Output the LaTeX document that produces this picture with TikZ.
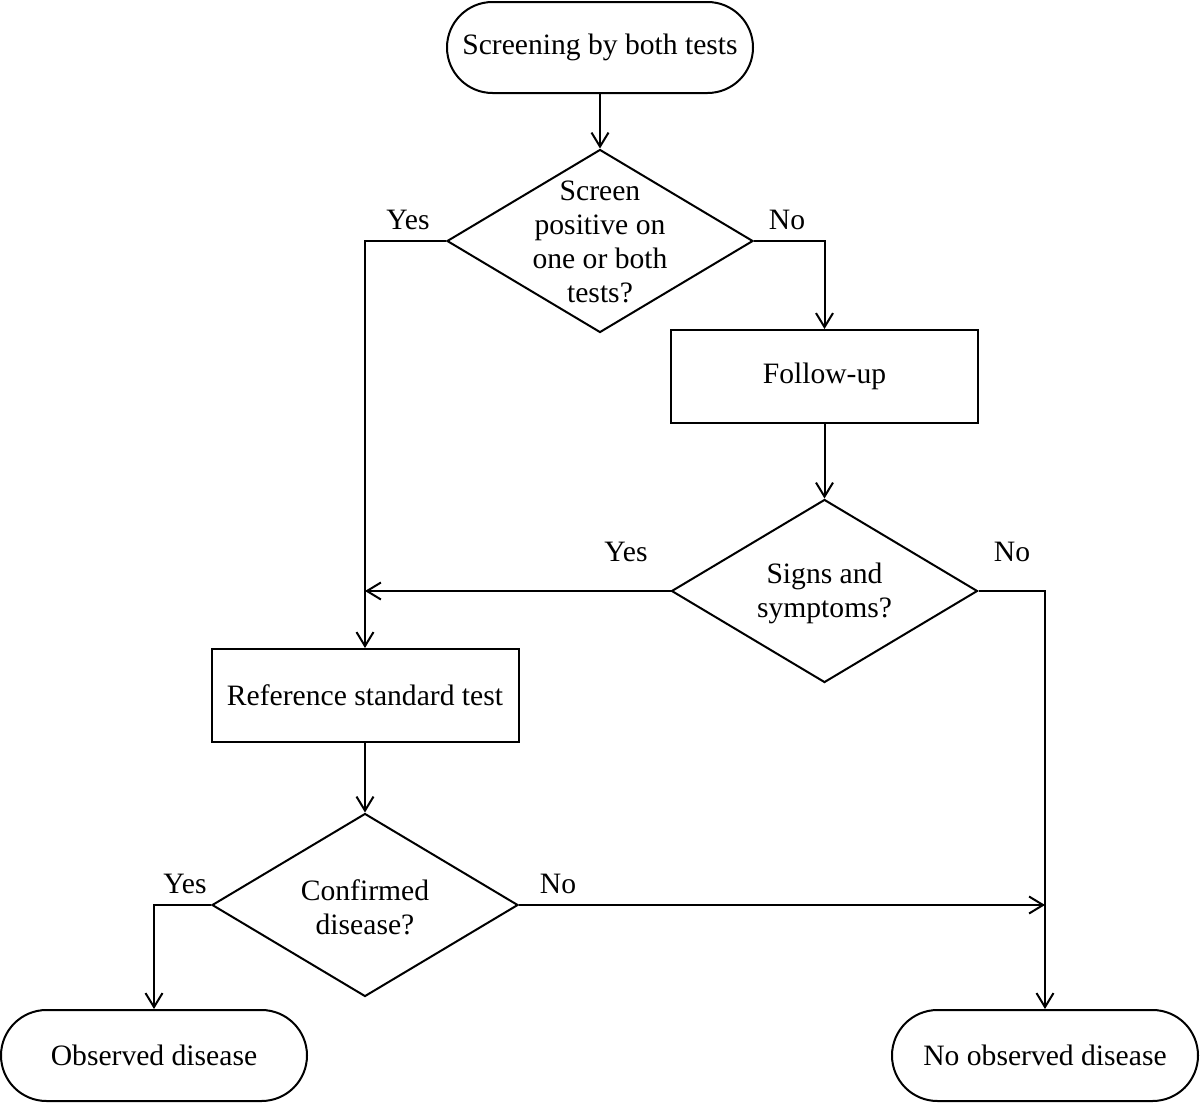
\documentclass[tikz,border=0pt]{standalone}
\usepackage{fontspec}
\setmainfont{Liberation Serif}
\usetikzlibrary{shapes.geometric,shapes.misc,arrows.meta}
\begin{document}
\begin{tikzpicture}[x=0.5pt,y=-0.5pt,
  every node/.style={font=\fontsize{14.8}{17}\selectfont},
  base/.style={draw,line width=1pt,inner sep=0pt},
  term/.style={base,rounded rectangle,minimum width=153pt,minimum height=45.5pt},
  proc/.style={base,rectangle,minimum width=153.5pt,minimum height=46.5pt},
  dec/.style={base,diamond,minimum width=153pt,minimum height=91.5pt},
  txt/.style={align=center,inner sep=0pt},
  lbl/.style={inner sep=0pt},
  arr/.style={line width=1pt,-{Straight Barb[length=7pt,width=8.5pt]}},
  conn/.style={line width=1pt}]
\useasboundingbox (0,0) rectangle (1200,1103);
% nodes
\node[term] (start) at (600,47.5) {Screening by both tests};
\node[dec] (d1) at (600,241) {};
\node[txt] (d1t) at (600,242) {Screen\\positive on\\one or both\\tests?};
\node[proc] (follow) at (824.5,376.5) {Follow-up};
\node[dec] (d2) at (824.5,591) {};
\node[txt] (d2t) at (824.5,593) {Signs and\\symptoms?};
\node[proc] (ref) at (365,695.5) {Reference standard test};
\node[dec] (d3) at (365,905) {};
\node[txt] (d3t) at (365,907) {Confirmed\\disease?};
\node[term] (obs) at (154,1055.5) {Observed disease};
\node[term] (noobs) at (1045,1055.5) {No observed disease};
% labels
\node[lbl] (y1) at (408,220) {Yes};
\node[lbl] (n1) at (787,220) {No};
\node[lbl] (y2) at (626,552) {Yes};
\node[lbl] (n2) at (1012,552) {No};
\node[lbl] (y3) at (185,884) {Yes};
\node[lbl] (n3) at (558,884) {No};
% junction points
\coordinate (j1) at (d2.west -| ref.north);
\coordinate (j2) at (d3.east -| noobs.north);
% connectors
\draw[arr] (start.south) -- (d1.north);
\draw[arr] (d1.west) -| (ref.north);
\draw[arr] (d1.east) -| (follow.north);
\draw[arr] (follow.south) -- (d2.north);
\draw[arr] (d2.west) -- (j1);
\draw[arr] (d2.east) -| (noobs.north);
\draw[arr] (ref.south) -- (d3.north);
\draw[arr] (d3.west) -| (obs.north);
\draw[arr] (d3.east) -- (j2);
\end{tikzpicture}
\end{document}
